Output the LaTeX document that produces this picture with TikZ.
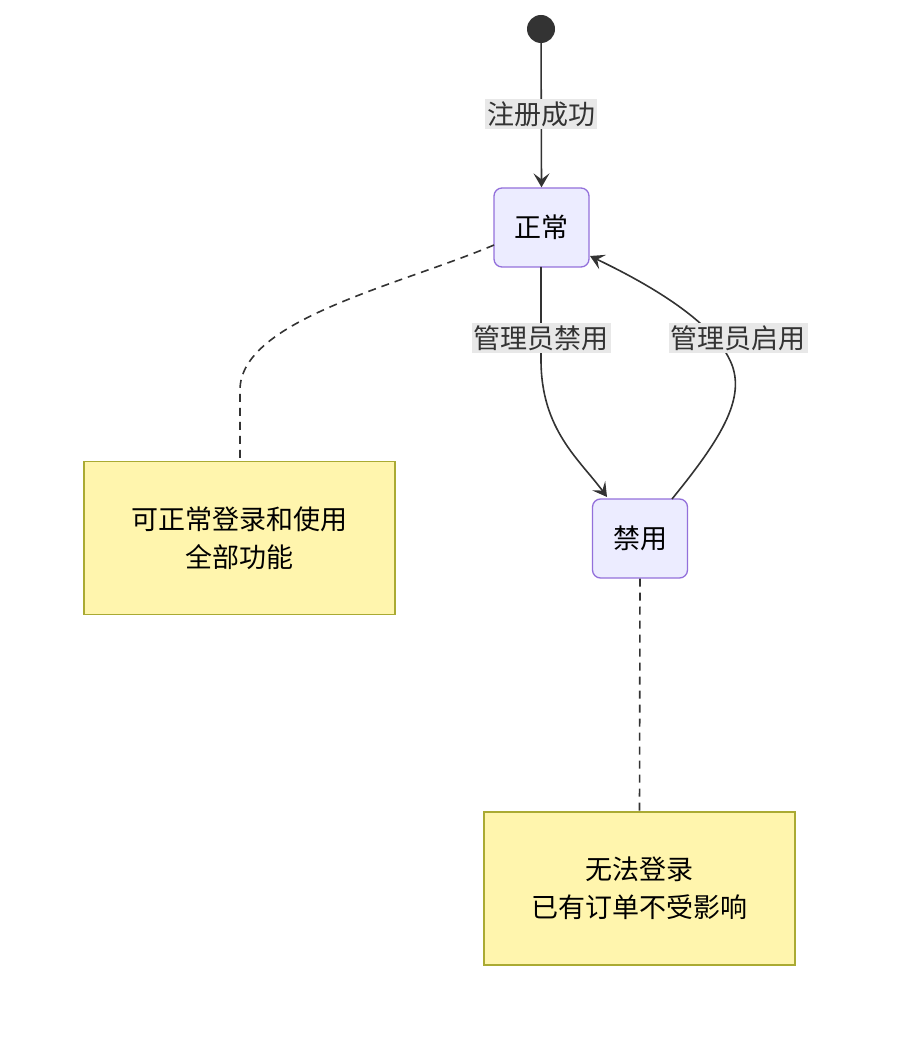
\documentclass[tikz,border=0pt]{standalone}
\usepackage{fontspec}
\setmainfont{Noto Sans CJK SC}
\usetikzlibrary{arrows.meta}
\definecolor{stfill}{HTML}{ECECFF}
\definecolor{stline}{HTML}{9370DB}
\definecolor{nfill}{HTML}{FFF5AD}
\definecolor{nline}{HTML}{AAAA33}
\definecolor{ln}{HTML}{333333}
\definecolor{lbg}{HTML}{E8E8E8}
\begin{document}
\begin{tikzpicture}[x=1pt,y=-1pt,
  every node/.style={font=\fontsize{27}{38}\selectfont, text=black},
  st/.style={draw=stline, fill=stfill, rounded corners=8pt, line width=1.3pt, minimum width=95pt, minimum height=79pt, inner sep=0},
  note/.style={draw=nline, fill=nfill, line width=1.6pt, minimum width=311pt, minimum height=153pt, align=center, inner sep=0},
  lbl/.style={fill=lbg, inner sep=2pt, text=ln},
  ed/.style={draw=ln, line width=1.6pt, -{Stealth[length=14pt,width=16pt,inset=6pt]}},
  dl/.style={draw=ln, line width=1.6pt, dash pattern=on 8pt off 6pt}]
\useasboundingbox (0,0) rectangle (896,1048);
\fill[ln] (541,29) circle (14) coordinate (s);
\node[st] (n) at (541.5,227.5) {正常};
\node[st] (d) at (640,538.5) {禁用};
\node[note] (a) at (239.5,538) {可正常登录和使用\\全部功能};
\node[note] (b) at (639.5,888.5) {无法登录\\已有订单不受影响};
\draw[ed] (s) -- (n.north);
\node[lbl] at (541,114) {注册成功};
\coordinate (c1) at (541,267);
\draw[ed] (c1) -- (541,360) .. controls (541,430) and (580,460) .. (607,497);
\node[lbl] at (541,338) {管理员禁用};
\draw[ed] (672,499) .. controls (720,440) and (745,400) .. (732,365) .. controls (715,320) and (640,280) .. (590,256);
\node[lbl] at (738,338) {管理员启用};
\draw[dl] (494,245) .. controls (400,285) and (240,320) .. (240,390) -- (240,462);
\draw[dl] (d.south) -- (b.north);
\end{tikzpicture}
\end{document}
